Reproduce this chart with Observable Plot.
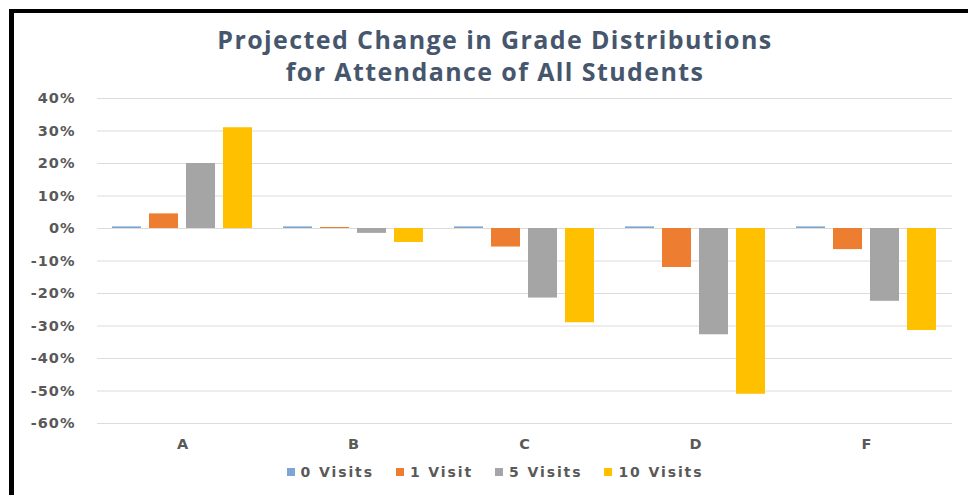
<!DOCTYPE html>
<html>
<head>
<meta charset="utf-8">
<script src="https://cdn.jsdelivr.net/npm/d3@7"></script>
<script src="https://cdn.jsdelivr.net/npm/@observablehq/plot@0.6"></script>
<style>
  html, body { margin: 0; padding: 0; background: #fff; width: 968px; height: 495px; overflow: hidden; }
  #frame { position: absolute; left: 9px; top: 9px; width: 959px; height: 486px; border-left: 5px solid #000; border-top: 4px solid #000; box-sizing: border-box; }
  #title { position: absolute; left: 14px; width: 962px; top: 23px; text-align: center; font-family: "Open Sans", sans-serif; font-weight: 700; font-size: 25px; line-height: 32px; color: #46566c; letter-spacing: 1.4px; }
  #chart { position: absolute; left: 0; top: 88px; }
  #chart svg text { font-family: "DejaVu Sans", sans-serif; font-weight: bold; font-size: 14.5px; letter-spacing: 1px; fill: #595959; }
  #legend { position: absolute; left: 14px; width: 962px; top: 464px; display: flex; justify-content: center; gap: 22px; font-family: "DejaVu Sans", sans-serif; font-weight: bold; font-size: 14px; letter-spacing: 1.9px; color: #595959; }
  #legend .item { display: flex; align-items: center; gap: 6px; }
  #legend .sw { width: 8px; height: 8px; display: inline-block; }
</style>
</head>
<body>
<div id="frame"></div>
<div id="title">Projected Change in Grade Distributions<br>for Attendance of All Students</div>
<div id="chart"></div>
<div id="legend"></div>
<script>
const grades = ["A", "B", "C", "D", "F"];
const series = ["0 Visits", "1 Visit", "5 Visits", "10 Visits"];
const colors = ["#7fa6d2", "#ed7d31", "#a5a5a5", "#ffc000"];
// percent change per grade, one array per series
const visits0 = [0.5, 0.5, 0.5, 0.5, 0.5];
const visits1 = [4.5, 0.3, -5.7, -12.0, -6.5];
const visits5 = [20.0, -1.5, -21.4, -32.7, -22.4];
const visits10 = [31.0, -4.3, -29.0, -51.0, -31.4];
const yTicks = [40, 30, 20, 10, 0, -10, -20, -30, -40, -50, -60];

const seriesValues = [visits0, visits1, visits5, visits10];
const data = [];
grades.forEach((g, i) => {
  series.forEach((s, j) => data.push({grade: g, series: s, value: seriesValues[j][i]}));
});

const chart = Plot.plot({
  width: 968,
  height: 375,
  marginLeft: 95,
  marginRight: 15,
  marginTop: 10,
  marginBottom: 40,
  style: {background: "transparent", overflow: "visible"},
  fx: {domain: grades, padding: 0, label: null},
  x: {domain: series, paddingInner: 0.21, paddingOuter: 0.41, axis: null},
  y: {domain: [-60, 40], label: null},
  color: {domain: series, range: colors},
  marks: [
    Plot.gridY(yTicks, {stroke: "#dcdcdc", strokeOpacity: 1, strokeWidth: 1}),
    Plot.axisY({ticks: yTicks, tickSize: 0, tickPadding: 22, tickFormat: d => d + "%", label: null}),
    Plot.axisFx({anchor: "bottom", tickSize: 0, tickPadding: 15, label: null}),
    Plot.barY(data, {fx: "grade", x: "series", y: "value", fill: "series"})
  ]
});
document.getElementById("chart").appendChild(chart);

const legend = document.getElementById("legend");
series.forEach((s, j) => {
  const item = document.createElement("span");
  item.className = "item";
  const sw = document.createElement("span");
  sw.className = "sw";
  sw.style.background = colors[j];
  const t = document.createElement("span");
  t.textContent = s;
  item.appendChild(sw);
  item.appendChild(t);
  legend.appendChild(item);
});
</script>
</body>
</html>
